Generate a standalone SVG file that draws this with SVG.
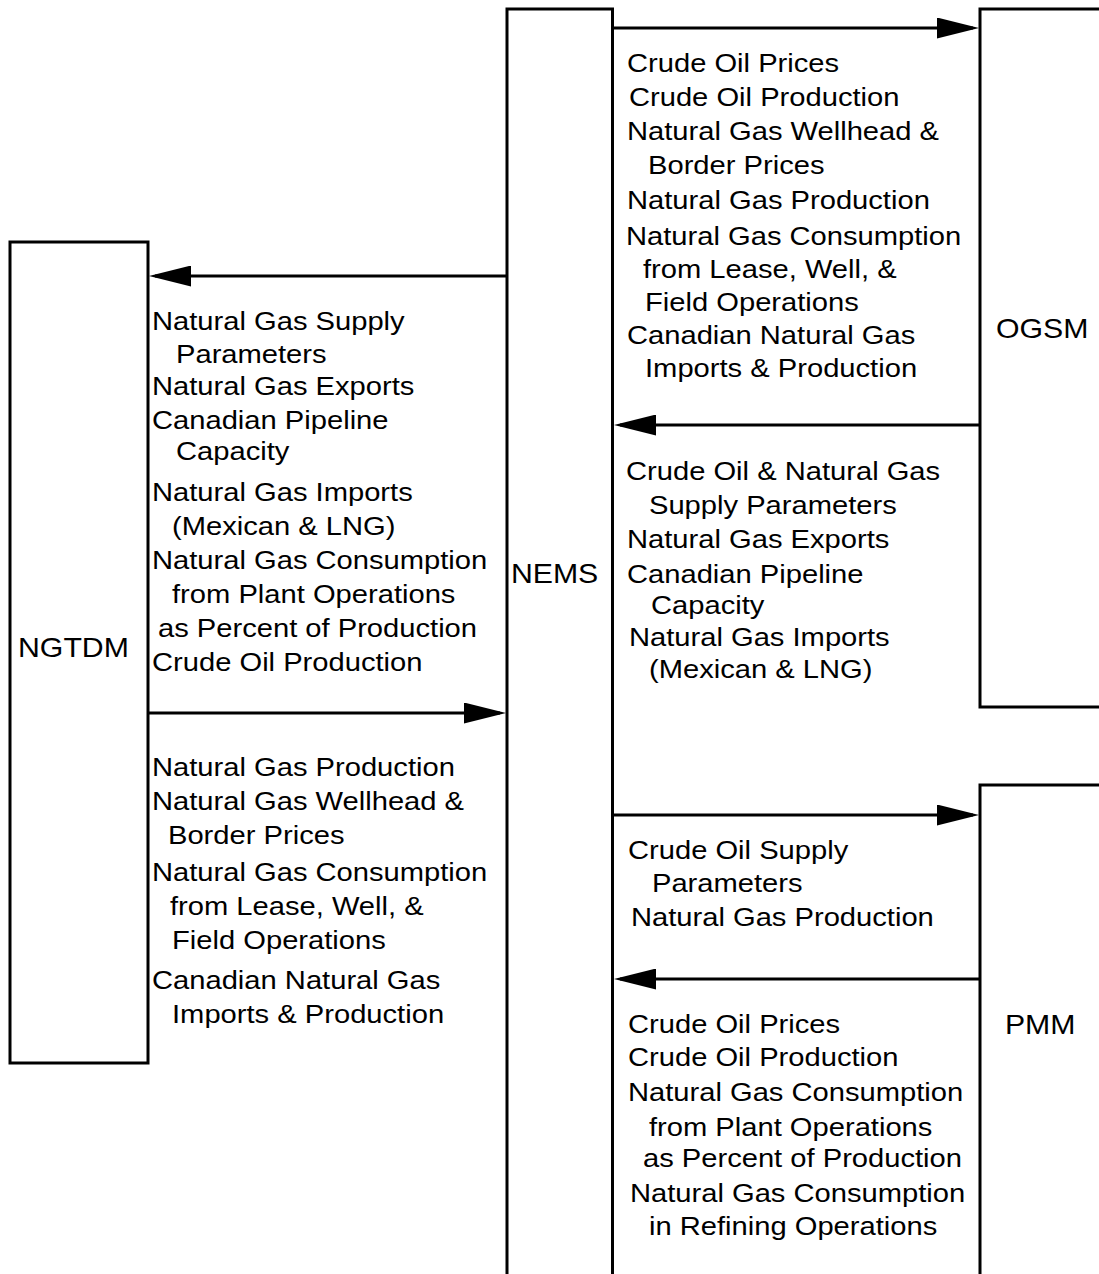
<svg xmlns="http://www.w3.org/2000/svg" width="1099" height="1274" viewBox="0 0 1099 1274">
  <style>
    .box { fill: #fff; stroke: #000; stroke-width: 3; }
    .wire { stroke: #000; stroke-width: 3; fill: none; marker-end: url(#head); }
    text { font-family: "Liberation Sans", Arial, sans-serif; font-size: 26.5px; fill: #000; }
    .name { font-size: 27.5px; }
  </style>
  <defs>
    <marker id="head" markerUnits="userSpaceOnUse" markerWidth="42" markerHeight="21" refX="36" refY="10.5" orient="auto">
      <path d="M0,0 L42,10.5 L0,21 Z" fill="#000"/>
    </marker>
  </defs>
  <rect width="1099" height="1274" fill="#fff"/>

  <!-- modules -->
  <g id="nems">
    <rect class="box" x="507" y="9" width="105.5" height="1300"/>
    <text class="name" transform="scale(1.1,1)" x="464.5" y="583">NEMS</text>
  </g>
  <g id="ngtdm">
    <rect class="box" x="10" y="242" width="138" height="821"/>
    <text class="name" transform="scale(1.1,1)" x="16.4" y="657">NGTDM</text>
  </g>
  <g id="ogsm">
    <rect class="box" x="980" y="9" width="140" height="698"/>
    <text class="name" transform="scale(1.1,1)" x="905.5" y="338">OGSM</text>
  </g>
  <g id="pmm">
    <rect class="box" x="980" y="785" width="140" height="520"/>
    <text class="name" transform="scale(1.1,1)" x="913.6" y="1034">PMM</text>
  </g>

  <!-- data flows between modules -->
  <g id="connectors">
    <line class="wire" x1="612" y1="28" x2="973" y2="28"/>
    <line class="wire" x1="980" y1="425" x2="620" y2="425"/>
    <line class="wire" x1="507" y1="276" x2="155" y2="276"/>
    <line class="wire" x1="148" y1="713" x2="500" y2="713"/>
    <line class="wire" x1="612" y1="815" x2="973" y2="815"/>
    <line class="wire" x1="980" y1="979" x2="620" y2="979"/>
  </g>

  <!-- flow contents -->
  <g id="labels" transform="scale(1.1,1)">
    <g id="nems-to-ogsm">
      <text x="570" y="72.5">Crude Oil Prices</text>
      <text x="571.8" y="106.5">Crude Oil Production</text>
      <text x="570" y="140.5">Natural Gas Wellhead &amp;</text>
      <text x="589.1" y="174.5">Border Prices</text>
      <text x="570" y="209.5">Natural Gas Production</text>
      <text x="569.1" y="245.5">Natural Gas Consumption</text>
      <text x="584.5" y="278.5">from Lease, Well, &amp;</text>
      <text x="586.4" y="311.5">Field Operations</text>
      <text x="570" y="344.5">Canadian Natural Gas</text>
      <text x="586.4" y="377.5">Imports &amp; Production</text>
    </g>
    <g id="ogsm-to-nems">
      <text x="569.1" y="480.5">Crude Oil &amp; Natural Gas</text>
      <text x="590" y="514.5">Supply Parameters</text>
      <text x="570" y="548.5">Natural Gas Exports</text>
      <text x="570" y="583.5">Canadian Pipeline</text>
      <text x="591.8" y="614.5">Capacity</text>
      <text x="571.8" y="646.5">Natural Gas Imports</text>
      <text x="590" y="678.5">(Mexican &amp; LNG)</text>
    </g>
    <g id="nems-to-pmm">
      <text x="570.9" y="859.5">Crude Oil Supply</text>
      <text x="592.7" y="892.5">Parameters</text>
      <text x="573.6" y="926.5">Natural Gas Production</text>
    </g>
    <g id="pmm-to-nems">
      <text x="570.9" y="1033.5">Crude Oil Prices</text>
      <text x="570.9" y="1066.5">Crude Oil Production</text>
      <text x="570.9" y="1101.5">Natural Gas Consumption</text>
      <text x="590" y="1136.5">from Plant Operations</text>
      <text x="584.5" y="1167.5">as Percent of Production</text>
      <text x="572.7" y="1202.5">Natural Gas Consumption</text>
      <text x="590" y="1235.5">in Refining Operations</text>
    </g>
    <g id="nems-to-ngtdm">
      <text x="138.2" y="330.5">Natural Gas Supply</text>
      <text x="160" y="363.5">Parameters</text>
      <text x="138.2" y="395.5">Natural Gas Exports</text>
      <text x="138.2" y="429.5">Canadian Pipeline</text>
      <text x="160" y="460.5">Capacity</text>
      <text x="138.2" y="501.5">Natural Gas Imports</text>
      <text x="156.4" y="535.5">(Mexican &amp; LNG)</text>
      <text x="138.2" y="569.5">Natural Gas Consumption</text>
      <text x="156.4" y="603.5">from Plant Operations</text>
      <text x="143.6" y="637.5">as Percent of Production</text>
      <text x="138.2" y="671.5">Crude Oil Production</text>
    </g>
    <g id="ngtdm-to-nems">
      <text x="138.2" y="776.5">Natural Gas Production</text>
      <text x="138.2" y="810.5">Natural Gas Wellhead &amp;</text>
      <text x="152.7" y="844.5">Border Prices</text>
      <text x="138.2" y="881.5">Natural Gas Consumption</text>
      <text x="154.5" y="915.5">from Lease, Well, &amp;</text>
      <text x="156.4" y="949.5">Field Operations</text>
      <text x="138.2" y="989.5">Canadian Natural Gas</text>
      <text x="156.4" y="1023.5">Imports &amp; Production</text>
    </g>
  </g>
</svg>
